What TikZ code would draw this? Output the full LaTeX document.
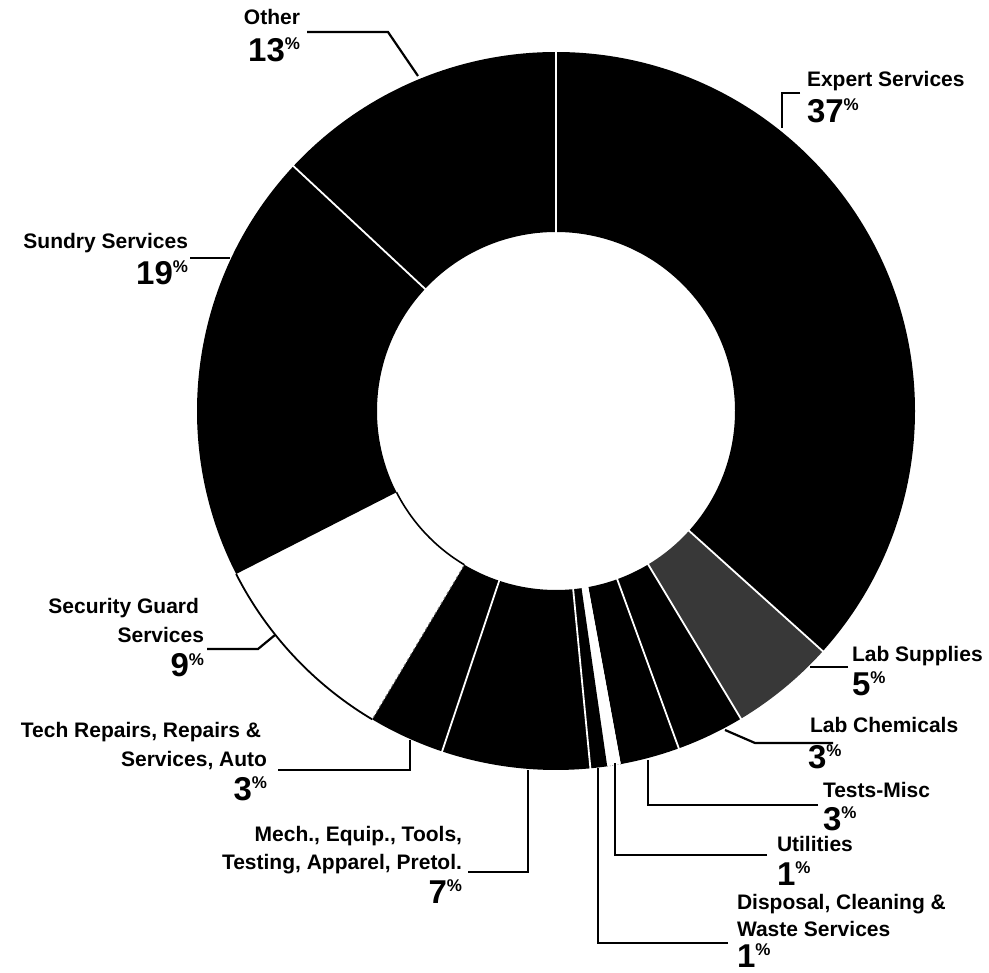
\documentclass[tikz,border=0pt]{standalone}
\usepackage{fontspec}
\setmainfont{Liberation Sans}
\tikzset{
  lbl/.style={font=\fontsize{21}{25}\selectfont\bfseries, inner sep=0pt, outer sep=0pt},
  lead/.style={line width=2.2pt, line join=miter, line cap=butt},
  sep/.style={white, line width=1.8pt},
  ringfill/.style={fill=black},
}
\newcommand\pctnum[1]{{\fontsize{33}{33}\selectfont\bfseries #1}\raisebox{12pt}{\fontsize{17}{17}\selectfont\bfseries\%}}
\newcommand\donutseg[3]{\path[#3] (#1:359pt) arc[start angle=#1, end angle=#2, radius=359pt] -- (#2:179pt) arc[start angle=#2, end angle=#1, radius=179pt] -- cycle;}
\begin{document}
\begin{tikzpicture}[x=1pt, y=-1pt]
\useasboundingbox[fill=white] (0,0) rectangle (989,973);

% ---------- donut ----------
\begin{scope}[shift={(556,411)}]
  \donutseg{90}{-42}{ringfill}            % Expert Services
  \donutseg{-42}{-59}{fill=black!78}      % Lab Supplies
  \donutseg{-59}{-70}{ringfill}           % Lab Chemicals
  \donutseg{-70}{-79.6}{ringfill}         % Tests-Misc
  \donutseg{-79.6}{-81.8}{fill=white}     % Utilities
  \donutseg{-81.8}{-84.5}{ringfill}       % Disposal
  \donutseg{-84.5}{-108.5}{ringfill}      % Mech
  \donutseg{-108.5}{-120.8}{ringfill}     % Tech Repairs
  \donutseg{-120.8}{-153}{fill=white}     % Security Guard
  \donutseg{-153}{-223}{ringfill}         % Sundry
  \donutseg{-223}{-270}{ringfill}         % Other
  % separators
  \foreach \a in {90,-42,-59,-70,-84.5,-108.5,-223}
    \draw[sep] (\a:178pt) -- (\a:360pt);
  % security guard outline
  \draw[line width=1.8pt] (-120.8:359pt) arc[start angle=-120.8, end angle=-153, radius=359pt];
  \draw[line width=1.6pt] (-120.8:179pt) arc[start angle=-120.8, end angle=-153, radius=179pt];
  \draw[black!60, line width=0.8pt, dashed] (-120.8:180pt) -- (-120.8:358pt);
  \draw[line width=0.6pt, black!70, dotted] (-79.6:359pt) arc[start angle=-79.6, end angle=-81.8, radius=359pt];
\end{scope}

% ---------- labels ----------
\node[lbl, anchor=base east] (othA) at (300,24.5) {Other};
\node[lbl, anchor=base east] (othB) at (300,61.7) {\pctnum{13}};

\node[lbl, anchor=base west] (expA) at (807,86.5) {Expert Services};
\node[lbl, anchor=base west] (expB) at (807,123) {\pctnum{37}};

\node[lbl, anchor=base east] (sunA) at (188,249) {Sundry Services};
\node[lbl, anchor=base east] (sunB) at (188,285) {\pctnum{19}};

\node[lbl, anchor=base east] (secA) at (199,614) {Security Guard};
\node[lbl, anchor=base east] (secB) at (204,642) {Services};
\node[lbl, anchor=base east] (secC) at (204,677) {\pctnum{9}};

\node[lbl, anchor=base east] (tecA) at (261,737.5) {Tech Repairs, Repairs \&};
\node[lbl, anchor=base east] (tecB) at (267,766.5) {Services, Auto};
\node[lbl, anchor=base east] (tecC) at (267,800) {\pctnum{3}};

\node[lbl, anchor=base east] (mecA) at (462,841.5) {Mech., Equip., Tools,};
\node[lbl, anchor=base east] (mecB) at (462,869.5) {Testing, Apparel, Pretol.};
\node[lbl, anchor=base east] (mecC) at (462,903) {\pctnum{7}};

\node[lbl, anchor=base west] (tstA) at (823,797.5) {Tests-Misc};
\node[lbl, anchor=base west] (tstB) at (823,830) {\pctnum{3}};

\node[lbl, anchor=base west] (chmA) at (810,732.5) {Lab Chemicals};
\node[lbl, anchor=base west] (chmB) at (808,768) {\pctnum{3}};

\node[lbl, anchor=base west] (supA) at (852,661.5) {Lab Supplies};
\node[lbl, anchor=base west] (supB) at (852,695) {\pctnum{5}};

\node[lbl, anchor=base west] (utlA) at (777,851) {Utilities};
\node[lbl, anchor=base west] (utlB) at (777,885) {\pctnum{1}};

\node[lbl, anchor=base west] (dspA) at (737,909.5) {Disposal, Cleaning \&};
\node[lbl, anchor=base west] (dspB) at (737,936.5) {Waste Services};
\node[lbl, anchor=base west] (dspC) at (737,967) {\pctnum{1}};

% ---------- leader coordinates ----------
\coordinate (othE) at (307,32);   \coordinate (othK) at (388,32);   \coordinate (othR) at (418,76);
\coordinate (expE) at (800,93);   \coordinate (expK) at (782,93);   \coordinate (expR) at (782,128);
\coordinate (sunE) at (190,258);  \coordinate (sunR) at (230,258);
\coordinate (secE) at (207,649);  \coordinate (secK) at (258,649);  \coordinate (secR) at (275,635);
\coordinate (tecE) at (278,770);  \coordinate (tecK) at (410,770);  \coordinate (tecR) at (410,740);
\coordinate (mecE) at (468,872);  \coordinate (mecK) at (528,872);  \coordinate (mecR) at (528,770);
\coordinate (tstE) at (818,805);  \coordinate (tstK) at (648,805);  \coordinate (tstR) at (648,760);
\coordinate (chmE) at (833,743);  \coordinate (chmK) at (755,743);  \coordinate (chmR) at (725,730);
\coordinate (supE) at (848,667);  \coordinate (supR) at (810,667);
\coordinate (utlE) at (767,855);  \coordinate (utlK) at (615,855);  \coordinate (utlR) at (615,763);
\coordinate (dspE) at (728,943);  \coordinate (dspK) at (598,943);  \coordinate (dspR) at (598,768);

\draw[lead] (othE) -- (othK) -- (othR);
\draw[lead] (expE) -- (expK) -- (expR);
\draw[lead] (sunE) -- (sunR);
\draw[lead] (secE) -- (secK) -- (secR);
\draw[lead] (tecE) -- (tecK) -- (tecR);
\draw[lead] (mecE) -- (mecK) -- (mecR);
\draw[lead] (tstE) -- (tstK) -- (tstR);
\draw[lead] (chmE) -- (chmK) -- (chmR);
\draw[lead] (supE) -- (supR);
\draw[lead] (utlE) -- (utlK) -- (utlR);
\draw[lead] (dspE) -- (dspK) -- (dspR);
\end{tikzpicture}
\end{document}
